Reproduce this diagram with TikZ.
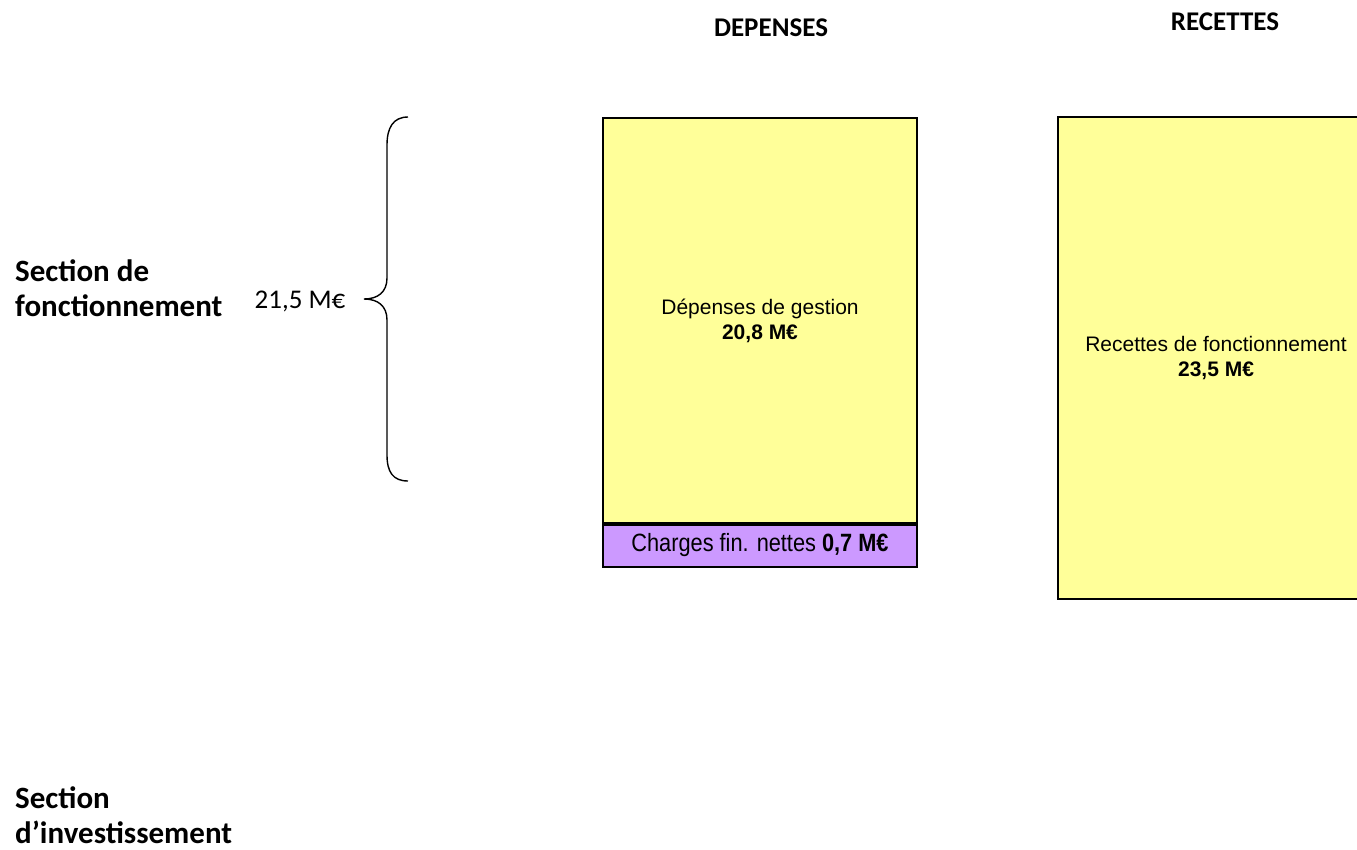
\documentclass[tikz,border=0pt]{standalone}
\usepackage{fontspec}
\setmainfont{Carlito}
\newfontfamily\arial{Liberation Sans}
\newfontfamily\narrow[FakeStretch=0.87]{Liberation Sans}
\definecolor{boxyellow}{RGB}{255,255,153}
\definecolor{boxpurple}{RGB}{204,153,255}
\tikzset{
  sectionlbl/.style={font=\fontsize{31}{35}\selectfont\bfseries, align=left, anchor=west, inner sep=0pt},
  headlbl/.style={font=\fontsize{27}{30}\selectfont\bfseries, inner sep=0pt},
  bigbox/.style={draw=black, line width=2pt, fill=boxyellow, minimum width=314pt, align=center,
    font=\arial\fontsize{21}{25}\selectfont, inner sep=0pt},
  chargebox/.style={draw=black, line width=2pt, fill=boxpurple, minimum width=314pt, minimum height=44pt,
    font=\narrow\fontsize{25}{28}\selectfont, inner sep=0pt},
  brace/.style={draw=black, line width=1.4pt}
}
\begin{document}
\begin{tikzpicture}[x=1pt,y=-1pt]
\clip (0,0) rectangle (1357,849);
\fill[white] (0,0) rectangle (1357,849);
% headers
\node[headlbl] (hdep) at (771,28) {DEPENSES};
\node[headlbl] (hrec) at (1225,22) {RECETTES};
% section labels
\node[sectionlbl] (secf) at (15,288) {Section de\\fonctionnement};
\node[sectionlbl] (seci) at (15,815) {Section\\d’investissement};
\node[font=\fontsize{27}{30}\selectfont, inner sep=0pt] (tot) at (300,301) {21,5 M€};
% brace
\coordinate (btop) at (408,117);
\coordinate (btip) at (364,299);
\coordinate (bbot) at (408,481);
\draw[brace] (btop) .. controls (393,117) and (387,128) .. (387,145)
  -- (387,278) .. controls (387,292) and (378,299) .. (btip)
  .. controls (378,299) and (387,306) .. (387,320)
  -- (387,455) .. controls (387,472) and (393,481) .. (bbot);
% depenses
\node[bigbox, minimum height=405pt] (dep) at (760,320.5) {Dépenses de gestion\\\textbf{20,8 M€}};
\node[chargebox] (chg) at (760,545) {Charges fin. nettes \textbf{0,7 M€}};
\draw[line width=3pt] (dep.south west) -- (dep.south east);
% recettes
\node[bigbox, minimum height=482pt, minimum width=316pt] (rec) at (1216,358) {Recettes de fonctionnement\\\textbf{23,5 M€}};
\end{tikzpicture}
\end{document}
